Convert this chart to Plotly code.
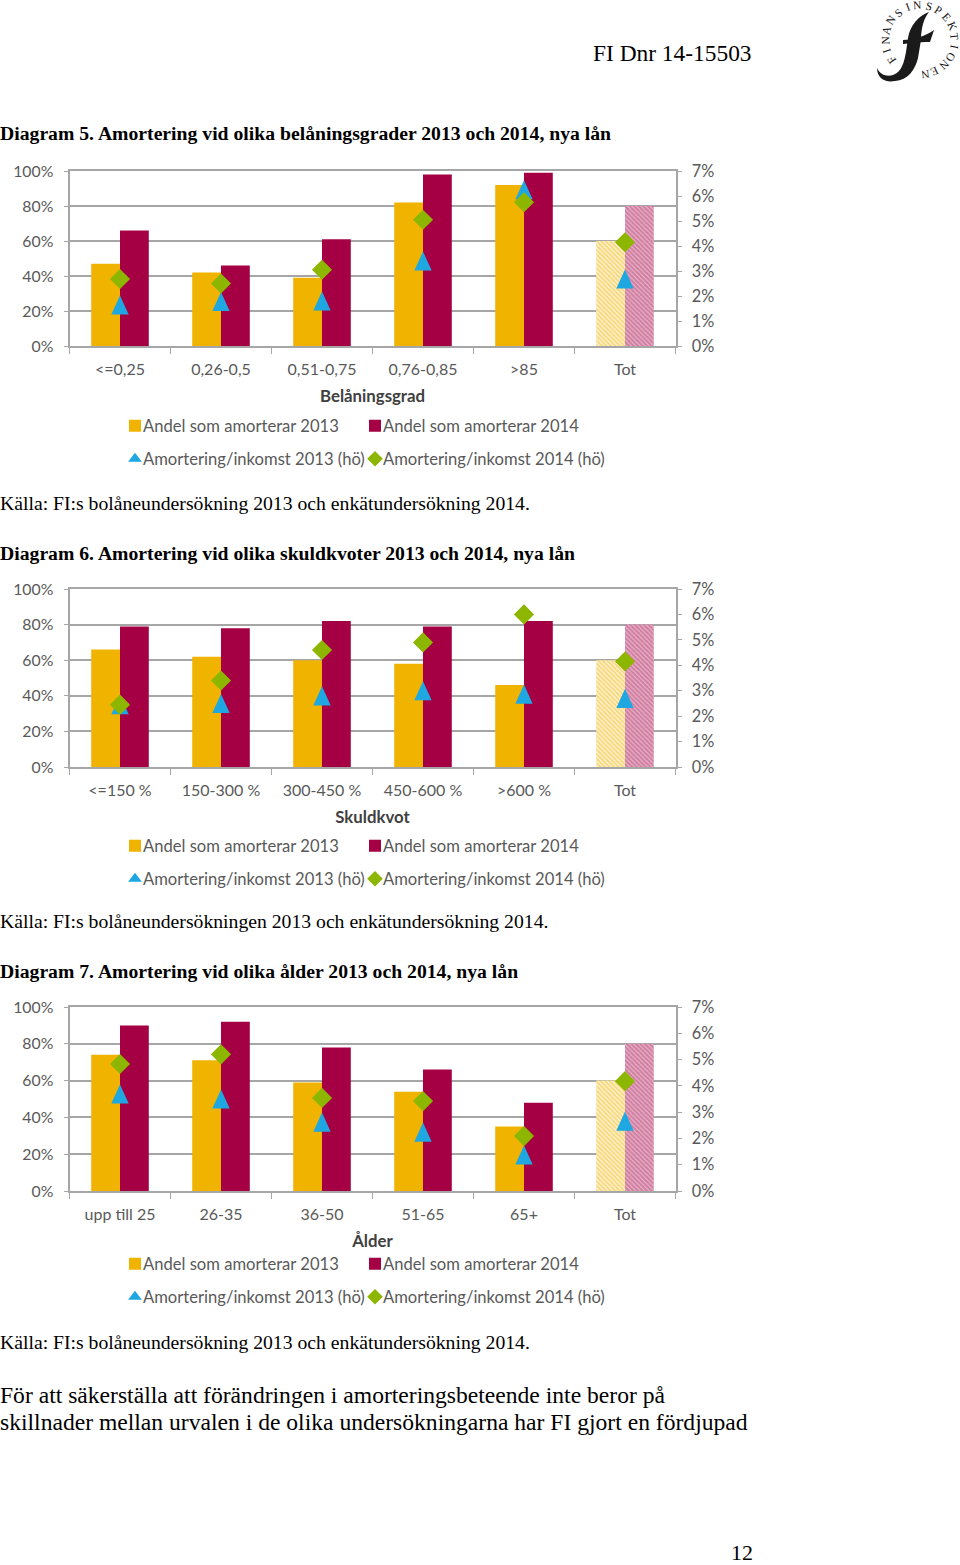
import math
import plotly.graph_objects as go

GOLD, RED, BLUE, GREEN = "#f0b400", "#a50044", "#1ea7e1", "#8db600"
GREY = "#a6a6a6"
TXT = "#595959"
SANS = "Lato"
SERIF = "Liberation Serif"
W, H = 960, 1565

cats5 = ["<=0,25", "0,26-0,5", "0,51-0,75", "0,76-0,85", ">85", "Tot"]
share13_5 = [47, 42, 39, 82, 92, 60]
share14_5 = [66, 46, 61, 98, 99, 80]
ratio13_5 = [1.64, 1.78, 1.8, 3.4, 6.25, 2.68]
ratio14_5 = [2.68, 2.5, 3.05, 5.05, 5.75, 4.15]

cats6 = ["<=150 %", "150-300 %", "300-450 %", "450-600 %", ">600 %", "Tot"]
share13_6 = [66, 62, 60, 58, 46, 60]
share14_6 = [79, 78, 82, 79, 82, 80]
ratio13_6 = [2.45, 2.5, 2.8, 3.0, 2.87, 2.7]
ratio14_6 = [2.45, 3.4, 4.6, 4.9, 6.0, 4.15]

cats7 = ["upp till 25", "26-35", "36-50", "51-65", "65+", "Tot"]
share13_7 = [74, 71, 59, 54, 35, 60]
share14_7 = [90, 92, 78, 66, 48, 80]
ratio13_7 = [3.69, 3.5, 2.62, 2.24, 1.37, 2.66]
ratio14_7 = [4.83, 5.2, 3.54, 3.42, 2.09, 4.18]

left_vals = [0, 20, 40, 60, 80, 100]
left_text = ["0%", "20%", "40%", "60%", "80%", "100%"]
right_vals = [0, 1, 2, 3, 4, 5, 6, 7]
right_text = ["0%", "1%", "2%", "3%", "4%", "5%", "6%", "7%"]

names = ["Andel som amorterar 2013", "Andel som amorterar 2014",
         "Amortering/inkomst 2013 (hö)", "Amortering/inkomst 2014 (hö)"]
axis_titles = ["Belåningsgrad", "Skuldkvot", "Ålder"]

charts = [
    dict(c=cats5, a=share13_5, b=share14_5, t=ratio13_5, d=ratio14_5, top=171, bot=346, leg=(426, 459)),
    dict(c=cats6, a=share13_6, b=share14_6, t=ratio13_6, d=ratio14_6, top=589, bot=767, leg=(846, 879)),
    dict(c=cats7, a=share13_7, b=share14_7, t=ratio13_7, d=ratio14_7, top=1007, bot=1191, leg=(1264, 1297)),
]

X0, X1 = 69.5, 675.5
fig = go.Figure()
layout = {}


def py(v):
    return 1 - v / H


def pattern(color, solidity):
    return dict(shape=["", "", "", "", "", "\\"], fgcolor=color, bgcolor="white", size=3.2, solidity=solidity)


legend_slots = [(0, 103), (0, 343), (1, 103), (1, 343)]
for i, ch in enumerate(charts):
    ax = 2 * i + 1
    xa, ya, ya2 = f"x{'' if i == 0 else ax}", f"y{'' if i == 0 else ax}", f"y{ax + 1}"
    lk = [("legend" if 4 * i + j == 0 else f"legend{4 * i + j + 1}") for j in range(4)]

    fig.add_bar(x=ch["c"], y=ch["a"], name=names[0], xaxis=xa, yaxis=ya, legend=lk[0],
                marker=dict(color=GOLD, pattern=pattern(GOLD, 0.75), line_width=0))
    fig.add_bar(x=ch["c"], y=ch["b"], name=names[1], xaxis=xa, yaxis=ya, legend=lk[1],
                marker=dict(color=RED, pattern=pattern(RED, 0.85), line_width=0))
    fig.add_scatter(x=ch["c"], y=ch["t"], name=names[2], mode="markers", xaxis=xa, yaxis=ya2, legend=lk[2],
                    marker=dict(symbol="triangle-up", size=15, color=BLUE))
    fig.add_scatter(x=ch["c"], y=ch["d"], name=names[3], mode="markers", xaxis=xa, yaxis=ya2, legend=lk[3],
                    marker=dict(symbol="diamond", size=15.5, color=GREEN))

    dom = [py(ch["bot"]), py(ch["top"])]
    xk = "xaxis" if i == 0 else f"xaxis{ax}"
    yk = "yaxis" if i == 0 else f"yaxis{ax}"
    layout[xk] = dict(domain=[X0 / W, X1 / W], anchor=ya, tickson="boundaries", ticks="outside", ticklen=6,
                      tickcolor=GREY, linecolor=GREY, linewidth=2, showline=True, mirror=True, showgrid=False,
                      ticklabelstandoff=8, tickfont=dict(family=SANS, size=16, color=TXT),
                      title=dict(text=f"<b>{axis_titles[i]}</b>", standoff=13,
                                 font=dict(family=SANS, size=16.8, color="#404040")))
    layout[yk] = dict(domain=dom, anchor=xa, range=[0, 100], tickvals=left_vals, ticktext=left_text,
                      ticks="outside", ticklen=4, tickcolor=GREY,
                      linecolor=GREY, linewidth=2, showline=True, gridcolor=GREY, gridwidth=2,
                      zeroline=False, ticklabelstandoff=7, tickfont=dict(family=SANS, size=15.8, color=TXT))
    layout[f"yaxis{ax + 1}"] = dict(domain=dom, anchor=xa, overlaying=ya, side="right", range=[0, 7],
                                    tickvals=right_vals, ticktext=right_text, ticks="outside", ticklen=4,
                                    tickcolor=GREY, linecolor=GREY, linewidth=2, showline=True,
                                    showgrid=False, zeroline=False, ticklabelstandoff=7,
                                    tickfont=dict(family=SANS, size=16.3, color=TXT))
    for key, (row, lx) in zip(lk, legend_slots):
        layout[key] = dict(orientation="v", x=lx / W, xanchor="left", y=py(ch["leg"][row]), yanchor="middle",
                           bgcolor="rgba(0,0,0,0)", itemsizing="constant",
                           font=dict(family=SANS, size=16.6, color=TXT),
                           itemclick=False, itemdoubleclick=False)

notes = [
    (593, 53, "FI Dnr 14-15503", 23.4, False),
    (0, 133, "Diagram 5. Amortering vid olika belåningsgrader 2013 och 2014, nya lån", 19.7, True),
    (0, 503, "Källa: FI:s bolåneundersökning 2013 och enkätundersökning 2014.", 19.7, False),
    (0, 553, "Diagram 6. Amortering vid olika skuldkvoter 2013 och 2014, nya lån", 19.7, True),
    (0, 921, "Källa: FI:s bolåneundersökningen 2013 och enkätundersökning 2014.", 19.7, False),
    (0, 971, "Diagram 7. Amortering vid olika ålder 2013 och 2014, nya lån", 19.7, True),
    (0, 1342, "Källa: FI:s bolåneundersökning 2013 och enkätundersökning 2014.", 19.7, False),
    (0, 1395, "För att säkerställa att förändringen i amorteringsbeteende inte beror på", 23.6, False),
    (0, 1422, "skillnader mellan urvalen i de olika undersökningarna har FI gjort en fördjupad", 23.6, False),
    (731, 1552, "12", 22, False),
]
ann = []
for x, y, t, s, b in notes:
    ann.append(dict(xref="paper", yref="paper", x=x / W, y=py(y), xanchor="left", yanchor="middle",
                    text=f"<b>{t}</b>" if b else t, showarrow=False, xshift=-2,
                    font=dict(family=SERIF, size=s, color="black")))

# Logo: ring of letters and the monogram
word = "FINANSINSPEKTIONEN"
cx, cy, r = 920, 40, 35
start, end = -126, 172
for k, letter in enumerate(word):
    ang = start + (end - start) * k / (len(word) - 1)
    a = math.radians(ang)
    ann.append(dict(xref="paper", yref="paper", x=(cx + r * math.sin(a)) / W, y=py(cy - r * math.cos(a)),
                    text=letter, showarrow=False, textangle=ang, xanchor="center", yanchor="middle",
                    font=dict(family=SERIF, size=11.5, color="#111")))


def logo_path(cmds):
    out = []
    for c, pts in cmds:
        out.append(c + " ".join(f"{x / W:.5f},{py(y):.5f}" for x, y in pts))
    return " ".join(out) + " Z"


stem = logo_path([("M", [(929, 12)]),
                  ("C", [(924, 18), (921, 28), (921, 40)]),
                  ("L", [(918, 58)]),
                  ("C", [(915, 70), (908, 80), (895, 81)]),
                  ("C", [(885, 83), (877, 78), (877, 68)]),
                  ("C", [(880, 75), (887, 77), (893, 75)]),
                  ("C", [(902, 72), (904, 62), (906, 52)]),
                  ("L", [(908, 38)]),
                  ("C", [(910, 26), (918, 16), (929, 12)])])
cross = logo_path([("M", [(903, 40)]),
                   ("C", [(912, 40), (924, 37), (934, 30)]),
                   ("L", [(930, 42), (927, 57), (920, 57), (923, 41)]),
                   ("C", [(918, 42), (910, 43), (903, 44)])])
shapes = [dict(type="path", xref="paper", yref="paper", path=p, fillcolor="#1a1a1a", line_width=0)
          for p in (stem, cross)]

fig.update_layout(width=W, height=H, margin=dict(l=0, r=0, t=0, b=0, autoexpand=False), paper_bgcolor="white",
                  plot_bgcolor="white", barmode="group", bargap=0.43, bargroupgap=0,
                  annotations=ann, shapes=shapes, showlegend=True, **layout)

post = """
document.body.style.margin='0';
document.querySelectorAll('.legendsymbols').forEach(function(g){g.setAttribute('transform','translate(12,0)');});
document.querySelectorAll('.scatterlayer .trace path.point').forEach(function(p){
  if ((p.getAttribute('d')||'').indexOf('H') >= 0) {
    p.setAttribute('transform', p.getAttribute('transform') + ' scale(1,1.7) translate(0,1.9)');
  }
});
document.querySelectorAll('.legend path.scatterpts').forEach(function(p){
  if ((p.getAttribute('d')||'').indexOf('H') >= 0) {
    p.setAttribute('transform', p.getAttribute('transform') + ' scale(0.85,1.3)');
  }
});
"""
fig.write_html("out.html", post_script=post, config={"displayModeBar": False})
